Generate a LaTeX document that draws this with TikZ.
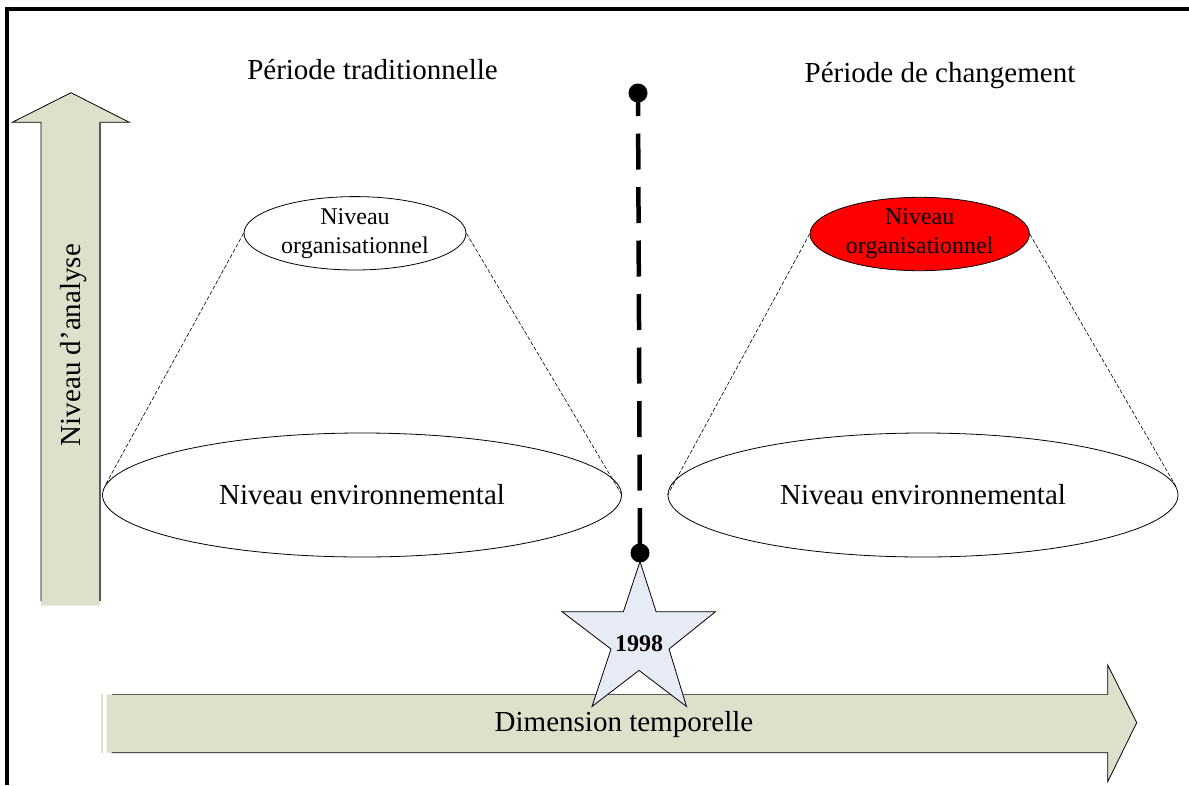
\documentclass[tikz,border=0pt]{standalone}
\usepackage{fontspec}
\setmainfont{Liberation Serif}
\usetikzlibrary{shapes.geometric}
\definecolor{arrowfill}{RGB}{221,225,203}
\definecolor{arrowedge}{RGB}{90,90,90}
\definecolor{starfill}{RGB}{230,235,246}
\begin{document}
\begin{tikzpicture}[x=1pt,y=-1pt,
  every node/.style={inner sep=0pt, font=\fontsize{29}{34}\selectfont},
  bigarrow/.style={fill=arrowfill},
  arrowline/.style={draw=black, line width=0.8pt, line join=miter},
  level/.style={ellipse, draw=black, line width=0.8pt, fill=white, inner sep=0pt},
  smalltext/.style={font=\fontsize{24}{29}\selectfont, align=center},
  cone/.style={draw=black, line width=0.6pt, dash pattern=on 4pt off 2pt},
  blackdot/.style={circle, fill=black, minimum size=19pt, inner sep=0pt},
  timeline/.style={line width=4.5pt, dash pattern=on 36pt off 17.5pt, dash phase=13pt}]
\useasboundingbox (0,0) rectangle (1189,785);

% frame (top and left edges)
\draw[line width=4pt] (7,785) -- (7,8.7) -- (1189,8.7);

% vertical arrow: level of analysis
\fill[bigarrow] (41,605.7) -- (41,122.3) -- (12.3,122.3) -- (71,92.7) -- (129.3,122.3)
  -- (100,122.3) -- (100,605.7) -- cycle;
\draw[arrowline] (41,601) -- (41,122.3) -- (12.3,122.3) -- (71,92.7) -- (129.3,122.3) -- (100,122.3);
\draw[draw=arrowedge, line width=1.4pt] (100,122.3) -- (100,601);
\node[rotate=90, anchor=base] (analyse) at (80,345) {Niveau d’analyse};

% horizontal arrow: time dimension
\fill[bigarrow] (100.7,694.3) rectangle (102.7,752.7);
\fill[bigarrow] (106.7,694.3) -- (1107.7,694.3) -- (1107.7,665) -- (1136.7,722.7)
  -- (1107.7,781.7) -- (1107.7,752.7) -- (106.7,752.7) -- cycle;
\draw[draw=arrowedge, line width=1.4pt] (111.7,694.3) -- (1107.7,694.3);
\draw[arrowline] (1107.7,694.3) -- (1107.7,665) -- (1136.7,722.7) -- (1107.7,781.7)
  -- (1107.7,752.7) -- (111.7,752.7);
\node[anchor=base] (temps) at (624,731) {Dimension temporelle};

% star marking the year of change
\filldraw[fill=starfill, draw=black, line width=0.8pt, line join=miter]
  (640,561.5) -- (656.1,611.7) -- (715.5,611.7) -- (669,649) -- (686.5,706.5)
  -- (639,670.4) -- (592,706.5) -- (611,649) -- (562,611.7) -- (623.4,611.7) -- cycle;
\node[anchor=base, font=\bfseries\fontsize{24}{29}\selectfont] (annee) at (639,651) {1998};

% period headings
\node[anchor=base] (tradi) at (372.5,79) {Période traditionnelle};
\node[anchor=base] (chang) at (940,82) {Période de changement};

% traditional period cone
\node[level, minimum width=222pt, minimum height=73.4pt, smalltext] (orgL) at (355,233.3) {Niveau\\organisationnel};
\node[level, minimum width=519pt, minimum height=124pt] (envL) at (362,495) {Niveau environnemental};
\draw[cone] (orgL.west) -- (envL.178);
\draw[cone] (orgL.east) -- (envL.east);

% change period cone
\node[level, fill=red, minimum width=219.4pt, minimum height=73.4pt, smalltext] (orgR) at (919.7,234) {Niveau\\organisationnel};
\node[level, minimum width=510pt, minimum height=124pt] (envR) at (923,495) {Niveau environnemental};
\draw[cone] (orgR.west) -- (envR.west);
\draw[cone] (orgR.east) -- (envR.2);

% dashed time line with its two end dots
\node[blackdot] (tdot) at (638,93) {};
\node[blackdot] (bdot) at (640,553) {};
\draw[timeline] (tdot.center) -- (bdot.center);
\end{tikzpicture}
\end{document}
